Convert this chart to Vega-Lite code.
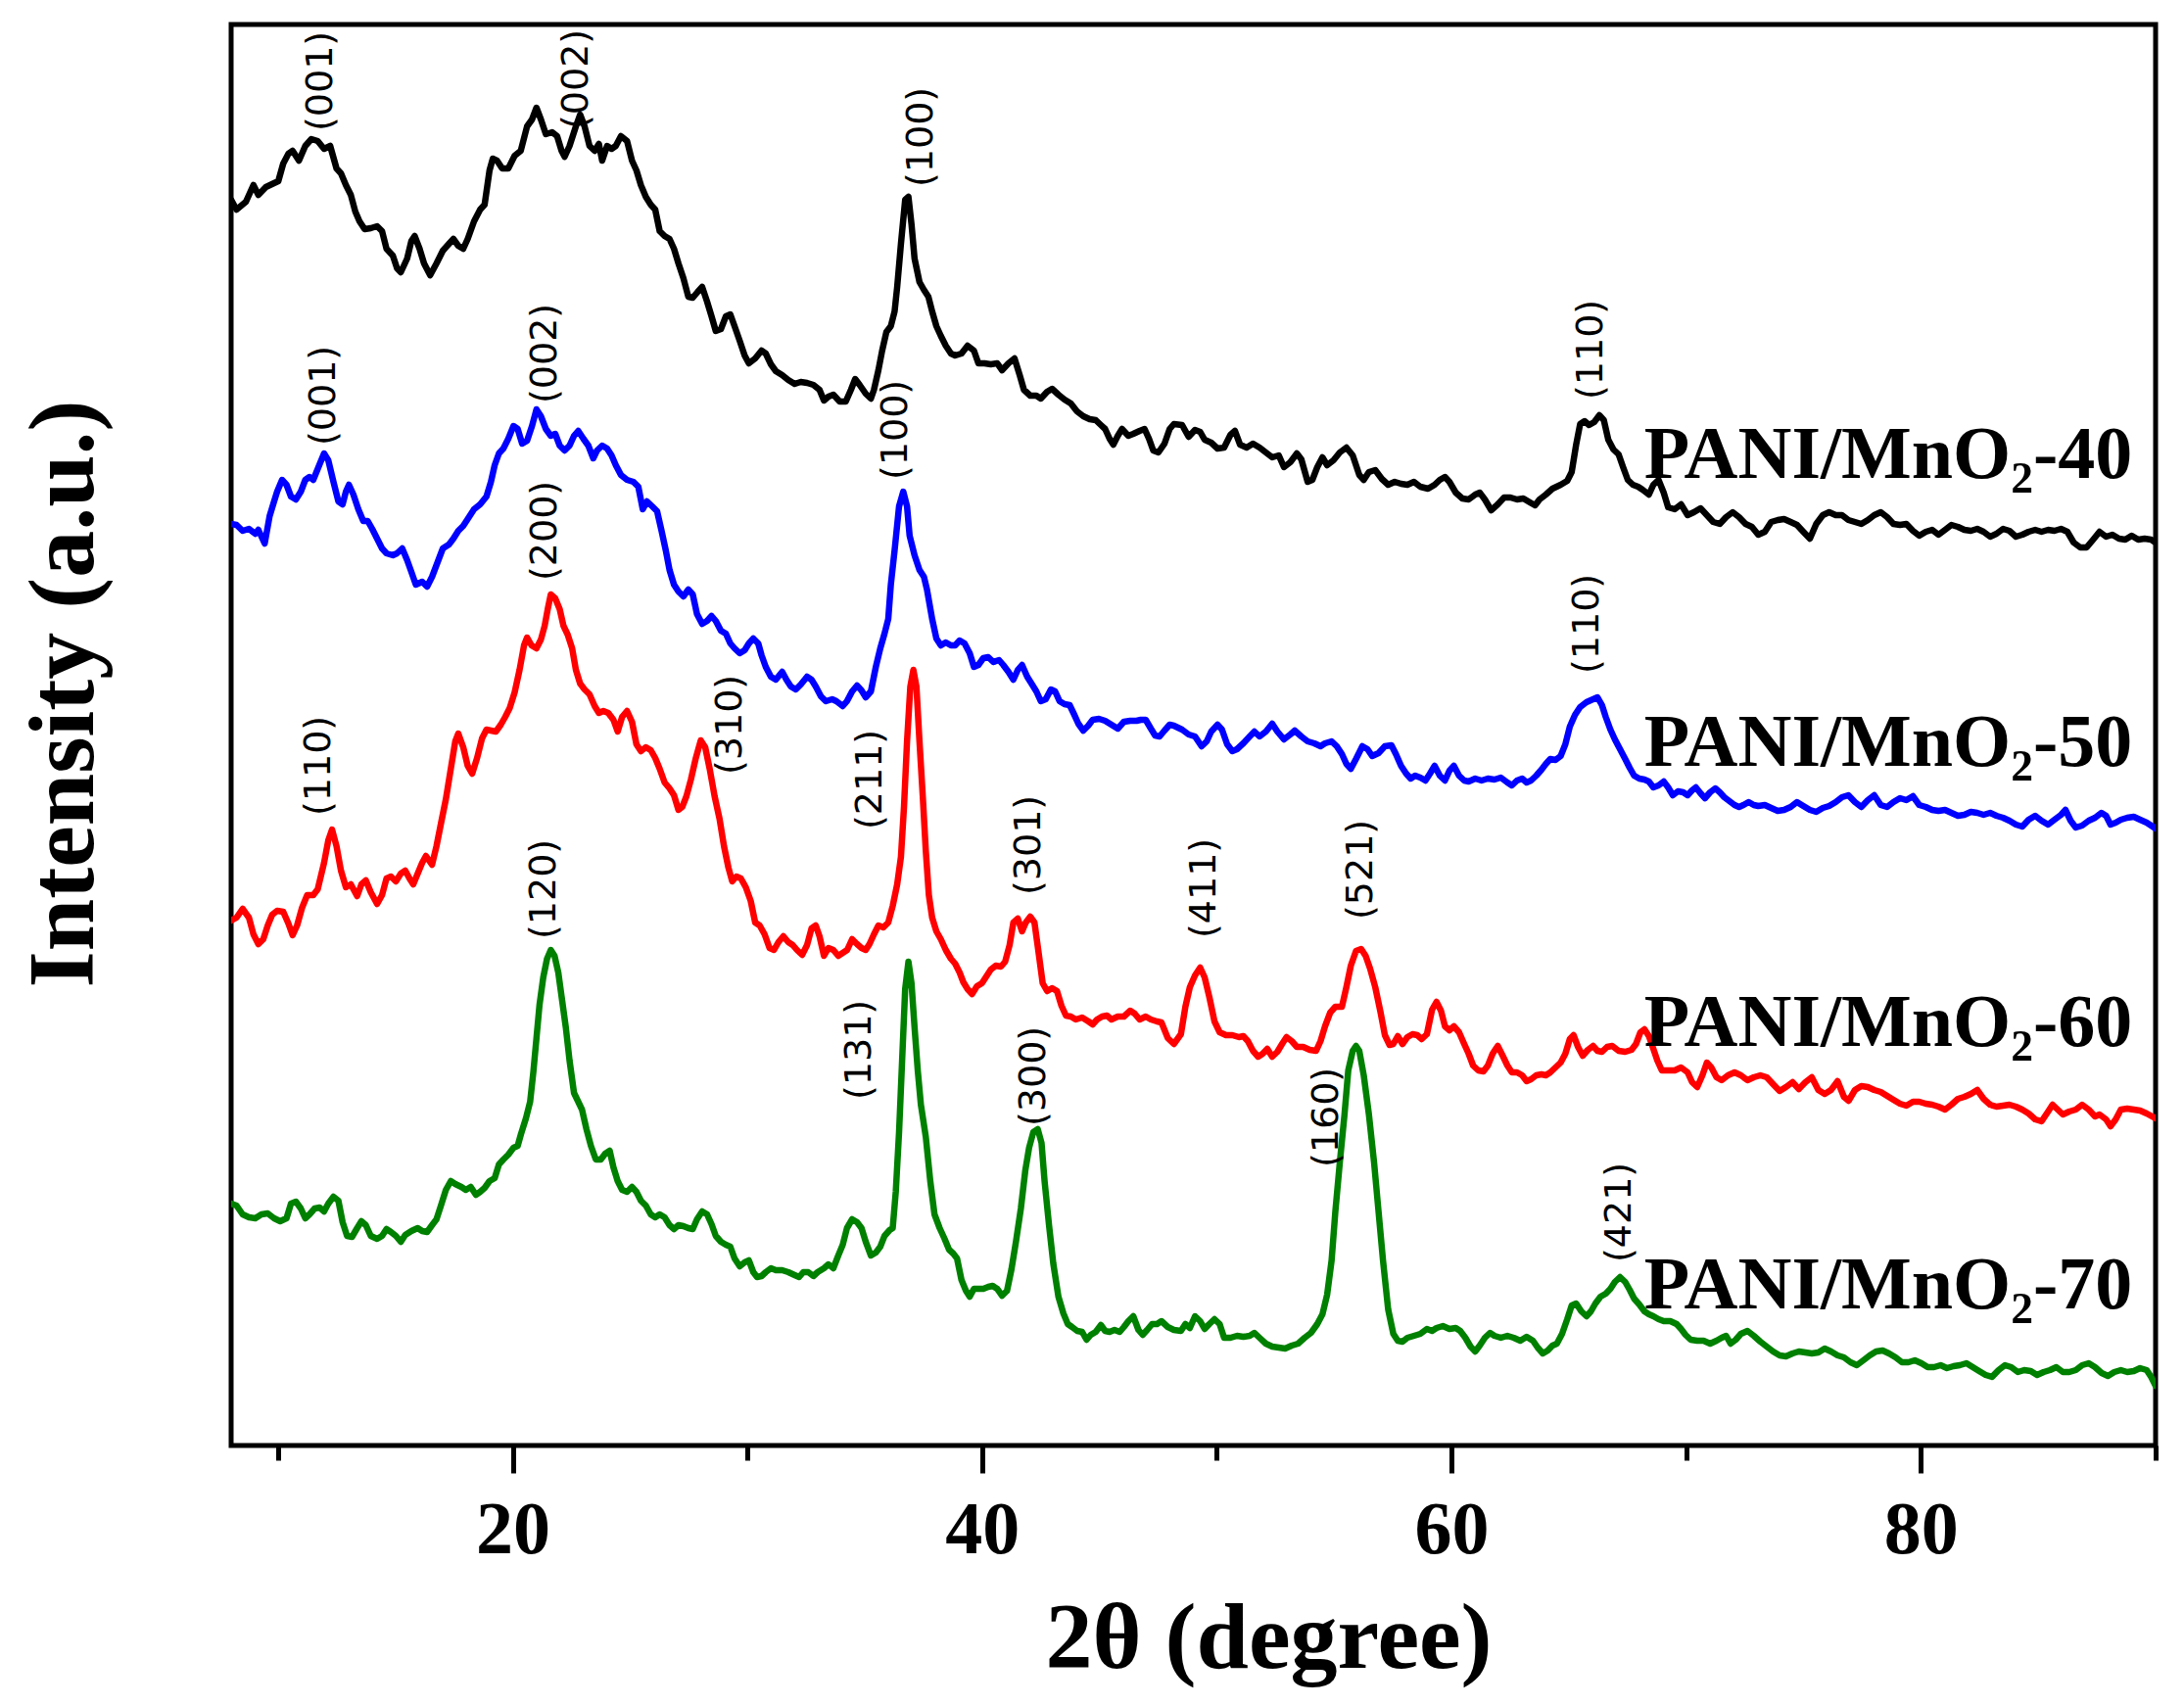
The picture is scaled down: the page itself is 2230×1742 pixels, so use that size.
{
"$schema": "https://vega.github.io/schema/vega-lite/v6.json",
"width": 1965, "height": 1451,
"autosize": {"type": "none"},
"padding": {"left": 236, "top": 25, "right": 29, "bottom": 266},
"background": "white",
"config": {"view": {"stroke": "black", "strokeWidth": 5}, "axis": {"grid": false}},
"datasets": {
"curves": [
{"s":"40","x":8,"y":1272},{"s":"40","x":8.23,"y":1262},{"s":"40","x":8.63,"y":1270},{"s":"40","x":8.95,"y":1287},{"s":"40","x":9.16,"y":1277},{"s":"40","x":9.48,"y":1285},{"s":"40","x":9.83,"y":1289},{"s":"40","x":10.01,"y":1291},{"s":"40","x":10.22,"y":1309},{"s":"40","x":10.44,"y":1319},{"s":"40","x":10.62,"y":1322},{"s":"40","x":10.89,"y":1312},{"s":"40","x":11.16,"y":1327},{"s":"40","x":11.42,"y":1334},{"s":"40","x":11.69,"y":1332},{"s":"40","x":11.96,"y":1324},{"s":"40","x":12.22,"y":1327},{"s":"40","x":12.49,"y":1304},{"s":"40","x":12.68,"y":1299},{"s":"40","x":12.89,"y":1287},{"s":"40","x":13.1,"y":1277},{"s":"40","x":13.29,"y":1260},{"s":"40","x":13.47,"y":1250},{"s":"40","x":13.69,"y":1242},{"s":"40","x":13.95,"y":1243},{"s":"40","x":14.22,"y":1245},{"s":"40","x":14.43,"y":1240},{"s":"40","x":14.62,"y":1222},{"s":"40","x":14.89,"y":1215},{"s":"40","x":15.07,"y":1202},{"s":"40","x":15.23,"y":1198},{"s":"40","x":15.5,"y":1212},{"s":"40","x":15.68,"y":1230},{"s":"40","x":15.82,"y":1235},{"s":"40","x":16.03,"y":1222},{"s":"40","x":16.22,"y":1207},{"s":"40","x":16.48,"y":1195},{"s":"40","x":16.75,"y":1207},{"s":"40","x":17.02,"y":1220},{"s":"40","x":17.28,"y":1227},{"s":"40","x":17.47,"y":1232},{"s":"40","x":17.68,"y":1225},{"s":"40","x":17.89,"y":1222},{"s":"40","x":18.08,"y":1232},{"s":"40","x":18.35,"y":1250},{"s":"40","x":18.61,"y":1262},{"s":"40","x":18.8,"y":1267},{"s":"40","x":19.01,"y":1302},{"s":"40","x":19.15,"y":1314},{"s":"40","x":19.33,"y":1312},{"s":"40","x":19.55,"y":1304},{"s":"40","x":19.81,"y":1304},{"s":"40","x":20.08,"y":1317},{"s":"40","x":20.34,"y":1322},{"s":"40","x":20.61,"y":1347},{"s":"40","x":20.82,"y":1354},{"s":"40","x":21.01,"y":1366},{"s":"40","x":21.2,"y":1354},{"s":"40","x":21.41,"y":1339},{"s":"40","x":21.68,"y":1341},{"s":"40","x":21.89,"y":1337},{"s":"40","x":22.08,"y":1322},{"s":"40","x":22.21,"y":1316},{"s":"40","x":22.42,"y":1327},{"s":"40","x":22.69,"y":1347},{"s":"40","x":22.87,"y":1359},{"s":"40","x":23.06,"y":1347},{"s":"40","x":23.27,"y":1327},{"s":"40","x":23.49,"y":1322},{"s":"40","x":23.67,"y":1329},{"s":"40","x":23.81,"y":1312},{"s":"40","x":24.02,"y":1327},{"s":"40","x":24.21,"y":1324},{"s":"40","x":24.39,"y":1327},{"s":"40","x":24.61,"y":1337},{"s":"40","x":24.87,"y":1332},{"s":"40","x":25.08,"y":1312},{"s":"40","x":25.27,"y":1302},{"s":"40","x":25.46,"y":1287},{"s":"40","x":25.67,"y":1275},{"s":"40","x":25.88,"y":1267},{"s":"40","x":26.07,"y":1262},{"s":"40","x":26.26,"y":1240},{"s":"40","x":26.47,"y":1235},{"s":"40","x":26.68,"y":1232},{"s":"40","x":26.87,"y":1222},{"s":"40","x":27.06,"y":1207},{"s":"40","x":27.27,"y":1192},{"s":"40","x":27.48,"y":1173},{"s":"40","x":27.67,"y":1172},{"s":"40","x":27.88,"y":1178},{"s":"40","x":28.07,"y":1183},{"s":"40","x":28.28,"y":1168},{"s":"40","x":28.47,"y":1153},{"s":"40","x":28.65,"y":1138},{"s":"40","x":28.87,"y":1140},{"s":"40","x":29.08,"y":1153},{"s":"40","x":29.27,"y":1155},{"s":"40","x":29.45,"y":1143},{"s":"40","x":29.67,"y":1128},{"s":"40","x":29.88,"y":1113},{"s":"40","x":30.06,"y":1105},{"s":"40","x":30.33,"y":1110},{"s":"40","x":30.6,"y":1118},{"s":"40","x":30.78,"y":1115},{"s":"40","x":31,"y":1104},{"s":"40","x":31.21,"y":1097},{"s":"40","x":31.48,"y":1093},{"s":"40","x":31.74,"y":1088},{"s":"40","x":32.01,"y":1084},{"s":"40","x":32.27,"y":1086},{"s":"40","x":32.54,"y":1085},{"s":"40","x":32.81,"y":1083},{"s":"40","x":33.07,"y":1078},{"s":"40","x":33.26,"y":1067},{"s":"40","x":33.45,"y":1071},{"s":"40","x":33.66,"y":1073},{"s":"40","x":33.93,"y":1066},{"s":"40","x":34.19,"y":1066},{"s":"40","x":34.41,"y":1078},{"s":"40","x":34.59,"y":1089},{"s":"40","x":34.78,"y":1083},{"s":"40","x":35.04,"y":1074},{"s":"40","x":35.26,"y":1069},{"s":"40","x":35.39,"y":1078},{"s":"40","x":35.58,"y":1098},{"s":"40","x":35.74,"y":1118},{"s":"40","x":35.92,"y":1137},{"s":"40","x":36.11,"y":1143},{"s":"40","x":36.27,"y":1158},{"s":"40","x":36.38,"y":1183},{"s":"40","x":36.54,"y":1227},{"s":"40","x":36.72,"y":1272},{"s":"40","x":36.86,"y":1275},{"s":"40","x":36.99,"y":1247},{"s":"40","x":37.12,"y":1212},{"s":"40","x":37.33,"y":1188},{"s":"40","x":37.52,"y":1180},{"s":"40","x":37.71,"y":1173},{"s":"40","x":37.87,"y":1158},{"s":"40","x":38.05,"y":1143},{"s":"40","x":38.24,"y":1133},{"s":"40","x":38.45,"y":1123},{"s":"40","x":38.67,"y":1115},{"s":"40","x":38.85,"y":1113},{"s":"40","x":39.12,"y":1115},{"s":"40","x":39.38,"y":1123},{"s":"40","x":39.65,"y":1118},{"s":"40","x":39.84,"y":1105},{"s":"40","x":40.1,"y":1105},{"s":"40","x":40.37,"y":1104},{"s":"40","x":40.64,"y":1105},{"s":"40","x":40.85,"y":1098},{"s":"40","x":41.12,"y":1105},{"s":"40","x":41.38,"y":1110},{"s":"40","x":41.6,"y":1093},{"s":"40","x":41.78,"y":1078},{"s":"40","x":42.05,"y":1072},{"s":"40","x":42.31,"y":1072},{"s":"40","x":42.5,"y":1069},{"s":"40","x":42.77,"y":1076},{"s":"40","x":42.98,"y":1079},{"s":"40","x":43.25,"y":1073},{"s":"40","x":43.51,"y":1068},{"s":"40","x":43.78,"y":1064},{"s":"40","x":44.04,"y":1056},{"s":"40","x":44.31,"y":1051},{"s":"40","x":44.58,"y":1048},{"s":"40","x":44.84,"y":1047},{"s":"40","x":45.06,"y":1042},{"s":"40","x":45.24,"y":1038},{"s":"40","x":45.43,"y":1028},{"s":"40","x":45.59,"y":1022},{"s":"40","x":45.78,"y":1031},{"s":"40","x":45.96,"y":1038},{"s":"40","x":46.23,"y":1031},{"s":"40","x":46.44,"y":1033},{"s":"40","x":46.71,"y":1036},{"s":"40","x":46.92,"y":1038},{"s":"40","x":47.11,"y":1028},{"s":"40","x":47.29,"y":1016},{"s":"40","x":47.51,"y":1014},{"s":"40","x":47.77,"y":1023},{"s":"40","x":47.99,"y":1038},{"s":"40","x":48.17,"y":1043},
{"s":"40","x":48.52,"y":1042},{"s":"40","x":48.8,"y":1030},{"s":"40","x":49.07,"y":1037},{"s":"40","x":49.29,"y":1035},{"s":"40","x":49.48,"y":1027},{"s":"40","x":49.76,"y":1024},{"s":"40","x":50.03,"y":1018},{"s":"40","x":50.31,"y":1019},{"s":"40","x":50.58,"y":1032},{"s":"40","x":50.77,"y":1036},{"s":"40","x":50.99,"y":1022},{"s":"40","x":51.27,"y":1019},{"s":"40","x":51.54,"y":1023},{"s":"40","x":51.82,"y":1019},{"s":"40","x":52.09,"y":1014},{"s":"40","x":52.36,"y":1009},{"s":"40","x":52.64,"y":1011},{"s":"40","x":52.86,"y":999},{"s":"40","x":53.13,"y":1004},{"s":"40","x":53.41,"y":1013},{"s":"40","x":53.6,"y":1007},{"s":"40","x":53.87,"y":984},{"s":"40","x":54.07,"y":986},{"s":"40","x":54.28,"y":999},{"s":"40","x":54.5,"y":1009},{"s":"40","x":54.7,"y":1001},{"s":"40","x":54.97,"y":1006},{"s":"40","x":55.24,"y":1014},{"s":"40","x":55.52,"y":1019},{"s":"40","x":55.79,"y":1011},{"s":"40","x":56.07,"y":991},{"s":"40","x":56.26,"y":986},{"s":"40","x":56.48,"y":994},{"s":"40","x":56.75,"y":996},{"s":"40","x":57.03,"y":987},{"s":"40","x":57.3,"y":981},{"s":"40","x":57.58,"y":984},{"s":"40","x":57.85,"y":982},{"s":"40","x":58.12,"y":981},{"s":"40","x":58.4,"y":984},{"s":"40","x":58.67,"y":979},{"s":"40","x":59,"y":977},{"s":"40","x":59.28,"y":981},{"s":"40","x":59.5,"y":986},{"s":"40","x":59.72,"y":989},{"s":"40","x":59.91,"y":984},{"s":"40","x":60.18,"y":973},{"s":"40","x":60.46,"y":967},{"s":"40","x":60.73,"y":966},{"s":"40","x":61.01,"y":971},{"s":"40","x":61.2,"y":973},{"s":"40","x":61.42,"y":966},{"s":"40","x":61.69,"y":955},{"s":"40","x":61.97,"y":961},{"s":"40","x":62.24,"y":968},{"s":"40","x":62.51,"y":968},{"s":"40","x":62.79,"y":966},{"s":"40","x":63.06,"y":967},{"s":"40","x":63.34,"y":963},{"s":"40","x":63.56,"y":960},{"s":"40","x":63.75,"y":966},{"s":"40","x":64.02,"y":971},{"s":"40","x":64.3,"y":977},{"s":"40","x":64.65,"y":981},{"s":"40","x":64.93,"y":985},{"s":"40","x":65.12,"y":994},{"s":"40","x":65.31,"y":1022},{"s":"40","x":65.48,"y":1043},{"s":"40","x":65.67,"y":1046},{"s":"40","x":65.86,"y":1042},{"s":"40","x":66.08,"y":1045},{"s":"40","x":66.3,"y":1052},{"s":"40","x":66.49,"y":1047},{"s":"40","x":66.68,"y":1027},{"s":"40","x":66.9,"y":1017},{"s":"40","x":67.12,"y":1012},{"s":"40","x":67.31,"y":999},{"s":"40","x":67.51,"y":986},{"s":"40","x":67.73,"y":981},{"s":"40","x":67.95,"y":979},{"s":"40","x":68.14,"y":976},{"s":"40","x":68.41,"y":971},{"s":"40","x":68.6,"y":981},{"s":"40","x":68.82,"y":986},{"s":"40","x":69.04,"y":973},{"s":"40","x":69.23,"y":958},{"s":"40","x":69.51,"y":956},{"s":"40","x":69.78,"y":961},{"s":"40","x":70.06,"y":950},{"s":"40","x":70.33,"y":953},{"s":"40","x":70.61,"y":957},{"s":"40","x":70.88,"y":950},{"s":"40","x":71.15,"y":943},{"s":"40","x":71.43,"y":941},{"s":"40","x":71.7,"y":948},{"s":"40","x":71.98,"y":953},{"s":"40","x":72.25,"y":948},{"s":"40","x":72.53,"y":941},{"s":"40","x":72.8,"y":938},{"s":"40","x":73.07,"y":930},{"s":"40","x":73.35,"y":933},{"s":"40","x":73.62,"y":943},{"s":"40","x":73.9,"y":945},{"s":"40","x":74.17,"y":946},{"s":"40","x":74.45,"y":943},{"s":"40","x":74.72,"y":940},{"s":"40","x":74.99,"y":933},{"s":"40","x":75.27,"y":926},{"s":"40","x":75.54,"y":941},{"s":"40","x":75.82,"y":950},{"s":"40","x":76.09,"y":953},{"s":"40","x":76.37,"y":950},{"s":"40","x":76.64,"y":950},{"s":"40","x":76.91,"y":945},{"s":"40","x":77.19,"y":943},{"s":"40","x":77.46,"y":941},{"s":"40","x":77.74,"y":945},{"s":"40","x":78.01,"y":950},{"s":"40","x":78.29,"y":953},{"s":"40","x":78.56,"y":948},{"s":"40","x":78.83,"y":941},{"s":"40","x":79.11,"y":940},{"s":"40","x":79.38,"y":941},{"s":"40","x":79.66,"y":934},{"s":"40","x":79.93,"y":929},{"s":"40","x":80.21,"y":933},{"s":"40","x":80.48,"y":935},{"s":"40","x":80.75,"y":930},{"s":"40","x":81.03,"y":935},{"s":"40","x":81.3,"y":940},{"s":"40","x":81.58,"y":938},{"s":"40","x":81.85,"y":935},{"s":"40","x":82.13,"y":934},{"s":"40","x":82.4,"y":936},{"s":"40","x":82.67,"y":933},{"s":"40","x":82.95,"y":928},{"s":"40","x":83.22,"y":931},{"s":"40","x":83.5,"y":936},{"s":"40","x":83.77,"y":934},{"s":"40","x":84.05,"y":928},{"s":"40","x":84.32,"y":930},{"s":"40","x":84.59,"y":933},{"s":"40","x":84.87,"y":935},{"s":"40","x":85.14,"y":933},{"s":"40","x":85.42,"y":935},{"s":"40","x":85.69,"y":934},{"s":"40","x":85.97,"y":936},{"s":"40","x":86.24,"y":933},{"s":"40","x":86.51,"y":922},{"s":"40","x":86.79,"y":917},{"s":"40","x":87.06,"y":917},{"s":"40","x":87.34,"y":925},{"s":"40","x":87.61,"y":933},{"s":"40","x":87.89,"y":928},{"s":"40","x":88.16,"y":930},{"s":"40","x":88.44,"y":926},{"s":"40","x":88.71,"y":925},{"s":"40","x":88.98,"y":929},{"s":"40","x":89.26,"y":925},{"s":"40","x":89.53,"y":926},{"s":"40","x":89.81,"y":925},{"s":"40","x":90,"y":922},
{"s":"50","x":8,"y":941},{"s":"50","x":8.23,"y":940},{"s":"50","x":8.49,"y":934},{"s":"50","x":8.76,"y":936},{"s":"50","x":9.03,"y":931},{"s":"50","x":9.16,"y":935},{"s":"50","x":9.43,"y":921},{"s":"50","x":9.64,"y":949},{"s":"50","x":9.83,"y":964},{"s":"50","x":9.96,"y":974},{"s":"50","x":10.17,"y":986},{"s":"50","x":10.36,"y":981},{"s":"50","x":10.55,"y":969},{"s":"50","x":10.76,"y":966},{"s":"50","x":10.97,"y":974},{"s":"50","x":11.16,"y":986},{"s":"50","x":11.34,"y":989},{"s":"50","x":11.5,"y":986},{"s":"50","x":11.72,"y":999},{"s":"50","x":11.96,"y":1013},{"s":"50","x":12.14,"y":1006},{"s":"50","x":12.36,"y":984},{"s":"50","x":12.57,"y":964},{"s":"50","x":12.75,"y":961},{"s":"50","x":12.89,"y":974},{"s":"50","x":13.02,"y":981},{"s":"50","x":13.21,"y":971},{"s":"50","x":13.42,"y":956},{"s":"50","x":13.63,"y":944},{"s":"50","x":13.82,"y":944},{"s":"50","x":14.01,"y":936},{"s":"50","x":14.22,"y":926},{"s":"50","x":14.43,"y":916},{"s":"50","x":14.62,"y":911},{"s":"50","x":14.89,"y":909},{"s":"50","x":15.07,"y":911},{"s":"50","x":15.29,"y":916},{"s":"50","x":15.5,"y":904},{"s":"50","x":15.68,"y":892},{"s":"50","x":15.87,"y":879},{"s":"50","x":16.14,"y":882},{"s":"50","x":16.35,"y":877},{"s":"50","x":16.56,"y":887},{"s":"50","x":16.83,"y":904},{"s":"50","x":17.02,"y":916},{"s":"50","x":17.28,"y":920},{"s":"50","x":17.47,"y":926},{"s":"50","x":17.68,"y":934},{"s":"50","x":17.89,"y":939},{"s":"50","x":18.08,"y":946},{"s":"50","x":18.35,"y":956},{"s":"50","x":18.61,"y":961},{"s":"50","x":18.88,"y":969},{"s":"50","x":19.07,"y":984},{"s":"50","x":19.23,"y":1001},{"s":"50","x":19.41,"y":1013},{"s":"50","x":19.6,"y":1018},{"s":"50","x":19.81,"y":1028},{"s":"50","x":20.03,"y":1041},{"s":"50","x":20.21,"y":1038},{"s":"50","x":20.4,"y":1023},{"s":"50","x":20.61,"y":1026},{"s":"50","x":20.82,"y":1041},{"s":"50","x":21.01,"y":1058},{"s":"50","x":21.2,"y":1051},{"s":"50","x":21.41,"y":1038},{"s":"50","x":21.62,"y":1031},{"s":"50","x":21.81,"y":1033},{"s":"50","x":22,"y":1021},{"s":"50","x":22.21,"y":1016},{"s":"50","x":22.42,"y":1021},{"s":"50","x":22.61,"y":1031},{"s":"50","x":22.79,"y":1036},{"s":"50","x":23.01,"y":1028},{"s":"50","x":23.22,"y":1021},{"s":"50","x":23.43,"y":1008},{"s":"50","x":23.59,"y":1016},{"s":"50","x":23.81,"y":1021},{"s":"50","x":24.02,"y":1018},{"s":"50","x":24.21,"y":1011},{"s":"50","x":24.39,"y":1001},{"s":"50","x":24.61,"y":991},{"s":"50","x":24.87,"y":986},{"s":"50","x":25.14,"y":984},{"s":"50","x":25.35,"y":979},{"s":"50","x":25.54,"y":956},{"s":"50","x":25.72,"y":964},{"s":"50","x":25.94,"y":959},{"s":"50","x":26.15,"y":954},{"s":"50","x":26.34,"y":934},{"s":"50","x":26.52,"y":914},{"s":"50","x":26.68,"y":894},{"s":"50","x":26.87,"y":879},{"s":"50","x":27.06,"y":872},{"s":"50","x":27.27,"y":867},{"s":"50","x":27.48,"y":874},{"s":"50","x":27.67,"y":869},{"s":"50","x":27.85,"y":849},{"s":"50","x":28.07,"y":839},{"s":"50","x":28.28,"y":842},{"s":"50","x":28.47,"y":847},{"s":"50","x":28.65,"y":842},{"s":"50","x":28.87,"y":832},{"s":"50","x":29.08,"y":829},{"s":"50","x":29.27,"y":819},{"s":"50","x":29.45,"y":814},{"s":"50","x":29.67,"y":809},{"s":"50","x":29.88,"y":812},{"s":"50","x":30.06,"y":819},{"s":"50","x":30.25,"y":824},{"s":"50","x":30.46,"y":819},{"s":"50","x":30.6,"y":807},{"s":"50","x":30.78,"y":795},{"s":"50","x":31,"y":785},{"s":"50","x":31.21,"y":782},{"s":"50","x":31.48,"y":790},{"s":"50","x":31.66,"y":782},{"s":"50","x":31.85,"y":775},{"s":"50","x":32.06,"y":772},{"s":"50","x":32.27,"y":777},{"s":"50","x":32.54,"y":785},{"s":"50","x":32.73,"y":782},{"s":"50","x":32.91,"y":775},{"s":"50","x":33.13,"y":765},{"s":"50","x":33.34,"y":760},{"s":"50","x":33.61,"y":762},{"s":"50","x":33.79,"y":760},{"s":"50","x":34.06,"y":755},{"s":"50","x":34.24,"y":760},{"s":"50","x":34.46,"y":770},{"s":"50","x":34.67,"y":776},{"s":"50","x":34.86,"y":771},{"s":"50","x":35.04,"y":764},{"s":"50","x":35.26,"y":770},{"s":"50","x":35.47,"y":795},{"s":"50","x":35.66,"y":814},{"s":"50","x":35.84,"y":829},{"s":"50","x":36,"y":844},{"s":"50","x":36.11,"y":879},{"s":"50","x":36.27,"y":914},{"s":"50","x":36.46,"y":959},{"s":"50","x":36.64,"y":974},{"s":"50","x":36.8,"y":959},{"s":"50","x":36.91,"y":929},{"s":"50","x":37.12,"y":909},{"s":"50","x":37.33,"y":894},{"s":"50","x":37.52,"y":887},{"s":"50","x":37.65,"y":874},{"s":"50","x":37.87,"y":844},{"s":"50","x":38.05,"y":824},{"s":"50","x":38.24,"y":817},{"s":"50","x":38.45,"y":820},{"s":"50","x":38.67,"y":817},{"s":"50","x":38.85,"y":817},{"s":"50","x":39.04,"y":822},{"s":"50","x":39.25,"y":819},{"s":"50","x":39.47,"y":809},{"s":"50","x":39.65,"y":795},{"s":"50","x":39.84,"y":797},{"s":"50","x":40.05,"y":804},{"s":"50","x":40.26,"y":805},{"s":"50","x":40.48,"y":800},{"s":"50","x":40.72,"y":802},{"s":"50","x":40.9,"y":797},{"s":"50","x":41.12,"y":790},{"s":"50","x":41.33,"y":782},{"s":"50","x":41.52,"y":792},{"s":"50","x":41.7,"y":797},{"s":"50","x":41.92,"y":785},{"s":"50","x":42.13,"y":777},{"s":"50","x":42.31,"y":770},{"s":"50","x":42.5,"y":760},{"s":"50","x":42.71,"y":762},{"s":"50","x":42.93,"y":772},{"s":"50","x":43.11,"y":770},{"s":"50","x":43.3,"y":760},{"s":"50","x":43.51,"y":757},{"s":"50","x":43.73,"y":756},{"s":"50","x":43.91,"y":747},{"s":"50","x":44.1,"y":737},{"s":"50","x":44.31,"y":730},{"s":"50","x":44.52,"y":735},{"s":"50","x":44.71,"y":741},{"s":"50","x":44.98,"y":742},{"s":"50","x":45.24,"y":740},{"s":"50","x":45.51,"y":736},{"s":"50","x":45.78,"y":732},{"s":"50","x":46.04,"y":739},{"s":"50","x":46.31,"y":740},{"s":"50","x":46.58,"y":740},{"s":"50","x":46.76,"y":741},{"s":"50","x":46.97,"y":741},{"s":"50","x":47.19,"y":732},{"s":"50","x":47.37,"y":725},{"s":"50","x":47.56,"y":724},{"s":"50","x":47.77,"y":730},{"s":"50","x":47.99,"y":736},{"s":"50","x":48.17,"y":735},
{"s":"50","x":48.52,"y":731},{"s":"50","x":48.8,"y":726},{"s":"50","x":49.07,"y":724},{"s":"50","x":49.35,"y":714},{"s":"50","x":49.57,"y":719},{"s":"50","x":49.76,"y":729},{"s":"50","x":50.03,"y":736},{"s":"50","x":50.22,"y":731},{"s":"50","x":50.44,"y":716},{"s":"50","x":50.66,"y":709},{"s":"50","x":50.86,"y":711},{"s":"50","x":51.13,"y":717},{"s":"50","x":51.4,"y":724},{"s":"50","x":51.6,"y":729},{"s":"50","x":51.82,"y":724},{"s":"50","x":52.09,"y":729},{"s":"50","x":52.36,"y":737},{"s":"50","x":52.58,"y":729},{"s":"50","x":52.86,"y":721},{"s":"50","x":53.13,"y":726},{"s":"50","x":53.32,"y":730},{"s":"50","x":53.6,"y":724},{"s":"50","x":53.87,"y":719},{"s":"50","x":54.15,"y":717},{"s":"50","x":54.42,"y":714},{"s":"50","x":54.61,"y":717},{"s":"50","x":54.89,"y":719},{"s":"50","x":55.11,"y":714},{"s":"50","x":55.33,"y":706},{"s":"50","x":55.52,"y":696},{"s":"50","x":55.71,"y":691},{"s":"50","x":55.93,"y":701},{"s":"50","x":56.2,"y":714},{"s":"50","x":56.42,"y":711},{"s":"50","x":56.62,"y":704},{"s":"50","x":56.89,"y":707},{"s":"50","x":57.16,"y":714},{"s":"50","x":57.44,"y":715},{"s":"50","x":57.63,"y":706},{"s":"50","x":57.85,"y":694},{"s":"50","x":58.07,"y":686},{"s":"50","x":58.26,"y":681},{"s":"50","x":58.45,"y":684},{"s":"50","x":58.67,"y":682},{"s":"50","x":58.89,"y":679},{"s":"50","x":59.08,"y":686},{"s":"50","x":59.28,"y":694},{"s":"50","x":59.5,"y":684},{"s":"50","x":59.72,"y":679},{"s":"50","x":59.91,"y":689},{"s":"50","x":60.1,"y":694},{"s":"50","x":60.32,"y":684},{"s":"50","x":60.54,"y":679},{"s":"50","x":60.73,"y":678},{"s":"50","x":61.01,"y":681},{"s":"50","x":61.28,"y":679},{"s":"50","x":61.55,"y":681},{"s":"50","x":61.83,"y":680},{"s":"50","x":62.1,"y":682},{"s":"50","x":62.38,"y":677},{"s":"50","x":62.57,"y":674},{"s":"50","x":62.79,"y":679},{"s":"50","x":63.01,"y":681},{"s":"50","x":63.2,"y":677},{"s":"50","x":63.39,"y":679},{"s":"50","x":63.61,"y":684},{"s":"50","x":63.83,"y":690},{"s":"50","x":64.02,"y":696},{"s":"50","x":64.21,"y":701},{"s":"50","x":64.43,"y":700},{"s":"50","x":64.65,"y":704},{"s":"50","x":64.85,"y":716},{"s":"50","x":65.04,"y":734},{"s":"50","x":65.26,"y":746},{"s":"50","x":65.48,"y":754},{"s":"50","x":65.75,"y":759},{"s":"50","x":66.03,"y":762},{"s":"50","x":66.22,"y":764},{"s":"50","x":66.41,"y":756},{"s":"50","x":66.57,"y":744},{"s":"50","x":66.77,"y":731},{"s":"50","x":66.96,"y":721},{"s":"50","x":67.18,"y":711},{"s":"50","x":67.4,"y":701},{"s":"50","x":67.59,"y":692},{"s":"50","x":67.78,"y":684},{"s":"50","x":68,"y":681},{"s":"50","x":68.22,"y":680},{"s":"50","x":68.41,"y":678},{"s":"50","x":68.6,"y":672},{"s":"50","x":68.82,"y":674},{"s":"50","x":69.04,"y":678},{"s":"50","x":69.23,"y":672},{"s":"50","x":69.43,"y":664},{"s":"50","x":69.65,"y":668},{"s":"50","x":69.87,"y":667},{"s":"50","x":70.06,"y":664},{"s":"50","x":70.25,"y":669},{"s":"50","x":70.41,"y":672},{"s":"50","x":70.61,"y":666},{"s":"50","x":70.8,"y":661},{"s":"50","x":71.02,"y":667},{"s":"50","x":71.24,"y":671},{"s":"50","x":71.43,"y":667},{"s":"50","x":71.62,"y":662},{"s":"50","x":71.84,"y":658},{"s":"50","x":72.06,"y":654},{"s":"50","x":72.25,"y":652},{"s":"50","x":72.44,"y":654},{"s":"50","x":72.66,"y":657},{"s":"50","x":72.88,"y":654},{"s":"50","x":73.07,"y":653},{"s":"50","x":73.35,"y":654},{"s":"50","x":73.62,"y":651},{"s":"50","x":73.9,"y":648},{"s":"50","x":74.17,"y":649},{"s":"50","x":74.45,"y":652},{"s":"50","x":74.72,"y":657},{"s":"50","x":74.99,"y":653},{"s":"50","x":75.27,"y":649},{"s":"50","x":75.54,"y":647},{"s":"50","x":75.82,"y":651},{"s":"50","x":76.09,"y":653},{"s":"50","x":76.37,"y":657},{"s":"50","x":76.64,"y":662},{"s":"50","x":76.91,"y":664},{"s":"50","x":77.19,"y":657},{"s":"50","x":77.46,"y":652},{"s":"50","x":77.74,"y":659},{"s":"50","x":78.01,"y":664},{"s":"50","x":78.29,"y":654},{"s":"50","x":78.56,"y":652},{"s":"50","x":78.83,"y":657},{"s":"50","x":79.11,"y":661},{"s":"50","x":79.38,"y":659},{"s":"50","x":79.66,"y":663},{"s":"50","x":79.93,"y":654},{"s":"50","x":80.21,"y":652},{"s":"50","x":80.48,"y":649},{"s":"50","x":80.75,"y":648},{"s":"50","x":81.03,"y":649},{"s":"50","x":81.3,"y":646},{"s":"50","x":81.58,"y":643},{"s":"50","x":81.85,"y":644},{"s":"50","x":82.13,"y":647},{"s":"50","x":82.4,"y":646},{"s":"50","x":82.67,"y":644},{"s":"50","x":82.95,"y":646},{"s":"50","x":83.22,"y":643},{"s":"50","x":83.5,"y":641},{"s":"50","x":83.77,"y":638},{"s":"50","x":84.05,"y":634},{"s":"50","x":84.32,"y":632},{"s":"50","x":84.59,"y":639},{"s":"50","x":84.87,"y":643},{"s":"50","x":85.14,"y":638},{"s":"50","x":85.42,"y":634},{"s":"50","x":85.69,"y":639},{"s":"50","x":85.97,"y":644},{"s":"50","x":86.16,"y":649},{"s":"50","x":86.38,"y":638},{"s":"50","x":86.6,"y":631},{"s":"50","x":86.87,"y":633},{"s":"50","x":87.15,"y":638},{"s":"50","x":87.42,"y":641},{"s":"50","x":87.69,"y":646},{"s":"50","x":87.89,"y":643},{"s":"50","x":88.08,"y":634},{"s":"50","x":88.3,"y":636},{"s":"50","x":88.52,"y":639},{"s":"50","x":88.79,"y":641},{"s":"50","x":89.07,"y":642},{"s":"50","x":89.34,"y":639},{"s":"50","x":89.62,"y":636},{"s":"50","x":90,"y":630},
{"s":"60","x":8,"y":536},{"s":"60","x":8.23,"y":539},{"s":"60","x":8.49,"y":548},{"s":"60","x":8.76,"y":539},{"s":"60","x":8.95,"y":522},{"s":"60","x":9.16,"y":512},{"s":"60","x":9.37,"y":517},{"s":"60","x":9.56,"y":531},{"s":"60","x":9.75,"y":542},{"s":"60","x":9.96,"y":546},{"s":"60","x":10.22,"y":545},{"s":"60","x":10.44,"y":533},{"s":"60","x":10.62,"y":521},{"s":"60","x":10.81,"y":531},{"s":"60","x":11.02,"y":549},{"s":"60","x":11.24,"y":562},{"s":"60","x":11.5,"y":562},{"s":"60","x":11.69,"y":568},{"s":"60","x":11.96,"y":595},{"s":"60","x":12.14,"y":618},{"s":"60","x":12.3,"y":629},{"s":"60","x":12.49,"y":612},{"s":"60","x":12.68,"y":587},{"s":"60","x":12.89,"y":570},{"s":"60","x":13.1,"y":573},{"s":"60","x":13.37,"y":561},{"s":"60","x":13.55,"y":573},{"s":"60","x":13.74,"y":577},{"s":"60","x":13.95,"y":565},{"s":"60","x":14.22,"y":553},{"s":"60","x":14.43,"y":562},{"s":"60","x":14.62,"y":579},{"s":"60","x":14.81,"y":581},{"s":"60","x":15.02,"y":576},{"s":"60","x":15.23,"y":584},{"s":"60","x":15.42,"y":587},{"s":"60","x":15.6,"y":579},{"s":"60","x":15.76,"y":573},{"s":"60","x":15.95,"y":584},{"s":"60","x":16.14,"y":595},{"s":"60","x":16.3,"y":602},{"s":"60","x":16.56,"y":593},{"s":"60","x":16.75,"y":612},{"s":"60","x":16.94,"y":635},{"s":"60","x":17.15,"y":660},{"s":"60","x":17.36,"y":691},{"s":"60","x":17.55,"y":719},{"s":"60","x":17.68,"y":727},{"s":"60","x":17.89,"y":713},{"s":"60","x":18.08,"y":694},{"s":"60","x":18.27,"y":686},{"s":"60","x":18.48,"y":702},{"s":"60","x":18.69,"y":722},{"s":"60","x":18.88,"y":731},{"s":"60","x":19.07,"y":730},{"s":"60","x":19.28,"y":729},{"s":"60","x":19.49,"y":736},{"s":"60","x":19.68,"y":744},{"s":"60","x":19.87,"y":753},{"s":"60","x":20.08,"y":769},{"s":"60","x":20.29,"y":792},{"s":"60","x":20.48,"y":817},{"s":"60","x":20.61,"y":825},{"s":"60","x":20.8,"y":817},{"s":"60","x":21.01,"y":814},{"s":"60","x":21.2,"y":823},{"s":"60","x":21.36,"y":837},{"s":"60","x":21.49,"y":854},{"s":"60","x":21.62,"y":869},{"s":"60","x":21.81,"y":865},{"s":"60","x":22,"y":854},{"s":"60","x":22.16,"y":837},{"s":"60","x":22.34,"y":828},{"s":"60","x":22.53,"y":814},{"s":"60","x":22.69,"y":792},{"s":"60","x":22.87,"y":778},{"s":"60","x":23.06,"y":772},{"s":"60","x":23.27,"y":767},{"s":"60","x":23.49,"y":755},{"s":"60","x":23.67,"y":748},{"s":"60","x":23.86,"y":750},{"s":"60","x":24.07,"y":748},{"s":"60","x":24.29,"y":741},{"s":"60","x":24.47,"y":729},{"s":"60","x":24.66,"y":744},{"s":"60","x":24.87,"y":750},{"s":"60","x":25.08,"y":739},{"s":"60","x":25.27,"y":716},{"s":"60","x":25.46,"y":709},{"s":"60","x":25.67,"y":713},{"s":"60","x":25.88,"y":710},{"s":"60","x":26.07,"y":702},{"s":"60","x":26.26,"y":691},{"s":"60","x":26.47,"y":677},{"s":"60","x":26.68,"y":671},{"s":"60","x":26.87,"y":664},{"s":"60","x":27.06,"y":649},{"s":"60","x":27.22,"y":652},{"s":"60","x":27.4,"y":663},{"s":"60","x":27.59,"y":680},{"s":"60","x":27.8,"y":702},{"s":"60","x":28.01,"y":720},{"s":"60","x":28.2,"y":713},{"s":"60","x":28.39,"y":691},{"s":"60","x":28.6,"y":663},{"s":"60","x":28.81,"y":640},{"s":"60","x":29,"y":612},{"s":"60","x":29.19,"y":590},{"s":"60","x":29.35,"y":576},{"s":"60","x":29.53,"y":581},{"s":"60","x":29.72,"y":579},{"s":"60","x":29.93,"y":570},{"s":"60","x":30.14,"y":556},{"s":"60","x":30.33,"y":534},{"s":"60","x":30.52,"y":531},{"s":"60","x":30.73,"y":522},{"s":"60","x":30.94,"y":508},{"s":"60","x":31.13,"y":506},{"s":"60","x":31.32,"y":514},{"s":"60","x":31.53,"y":520},{"s":"60","x":31.74,"y":514},{"s":"60","x":31.93,"y":511},{"s":"60","x":32.11,"y":506},{"s":"60","x":32.33,"y":501},{"s":"60","x":32.54,"y":511},{"s":"60","x":32.73,"y":528},{"s":"60","x":32.91,"y":531},{"s":"60","x":33.07,"y":520},{"s":"60","x":33.26,"y":500},{"s":"60","x":33.45,"y":508},{"s":"60","x":33.66,"y":506},{"s":"60","x":33.87,"y":500},{"s":"60","x":34.06,"y":503},{"s":"60","x":34.25,"y":506},{"s":"60","x":34.46,"y":517},{"s":"60","x":34.67,"y":512},{"s":"60","x":34.86,"y":508},{"s":"60","x":35.04,"y":506},{"s":"60","x":35.2,"y":512},{"s":"60","x":35.39,"y":522},{"s":"60","x":35.58,"y":531},{"s":"60","x":35.79,"y":529},{"s":"60","x":36,"y":534},{"s":"60","x":36.19,"y":551},{"s":"60","x":36.38,"y":573},{"s":"60","x":36.54,"y":601},{"s":"60","x":36.67,"y":652},{"s":"60","x":36.8,"y":719},{"s":"60","x":36.94,"y":775},{"s":"60","x":37.07,"y":792},{"s":"60","x":37.2,"y":775},{"s":"60","x":37.33,"y":719},{"s":"60","x":37.47,"y":663},{"s":"60","x":37.6,"y":607},{"s":"60","x":37.73,"y":562},{"s":"60","x":37.87,"y":539},{"s":"60","x":38.05,"y":525},{"s":"60","x":38.24,"y":517},{"s":"60","x":38.45,"y":506},{"s":"60","x":38.67,"y":497},{"s":"60","x":38.85,"y":492},{"s":"60","x":39.04,"y":483},{"s":"60","x":39.2,"y":473},{"s":"60","x":39.38,"y":466},{"s":"60","x":39.57,"y":461},{"s":"60","x":39.78,"y":469},{"s":"60","x":39.99,"y":472},{"s":"60","x":40.18,"y":479},{"s":"60","x":40.37,"y":486},{"s":"60","x":40.58,"y":490},{"s":"60","x":40.8,"y":489},{"s":"60","x":40.98,"y":494},{"s":"60","x":41.17,"y":511},{"s":"60","x":41.33,"y":534},{"s":"60","x":41.52,"y":538},{"s":"60","x":41.7,"y":525},{"s":"60","x":41.86,"y":534},{"s":"60","x":42.05,"y":540},{"s":"60","x":42.23,"y":534},{"s":"60","x":42.39,"y":506},{"s":"60","x":42.58,"y":472},{"s":"60","x":42.77,"y":464},{"s":"60","x":42.98,"y":467},{"s":"60","x":43.19,"y":464},{"s":"60","x":43.38,"y":449},{"s":"60","x":43.57,"y":439},{"s":"60","x":43.78,"y":438},{"s":"60","x":43.99,"y":435},{"s":"60","x":44.26,"y":437},{"s":"60","x":44.53,"y":433},{"s":"60","x":44.71,"y":430},{"s":"60","x":44.9,"y":435},{"s":"60","x":45.11,"y":438},{"s":"60","x":45.32,"y":439},{"s":"60","x":45.51,"y":435},{"s":"60","x":45.78,"y":438},{"s":"60","x":46.04,"y":438},{"s":"60","x":46.31,"y":444},{"s":"60","x":46.5,"y":441},{"s":"60","x":46.71,"y":435},{"s":"60","x":46.97,"y":438},{"s":"60","x":47.19,"y":435},{"s":"60","x":47.45,"y":433},{"s":"60","x":47.64,"y":432},{"s":"60","x":47.91,"y":416},{"s":"60","x":48.17,"y":410},
{"s":"60","x":48.47,"y":420},{"s":"60","x":48.66,"y":448},{"s":"60","x":48.85,"y":468},{"s":"60","x":49.07,"y":480},{"s":"60","x":49.29,"y":488},{"s":"60","x":49.48,"y":478},{"s":"60","x":49.68,"y":458},{"s":"60","x":49.9,"y":433},{"s":"60","x":50.12,"y":422},{"s":"60","x":50.39,"y":419},{"s":"60","x":50.66,"y":419},{"s":"60","x":50.94,"y":417},{"s":"60","x":51.13,"y":418},{"s":"60","x":51.32,"y":413},{"s":"60","x":51.54,"y":403},{"s":"60","x":51.76,"y":397},{"s":"60","x":51.95,"y":400},{"s":"60","x":52.15,"y":405},{"s":"60","x":52.36,"y":397},{"s":"60","x":52.58,"y":402},{"s":"60","x":52.78,"y":410},{"s":"60","x":52.97,"y":417},{"s":"60","x":53.19,"y":413},{"s":"60","x":53.41,"y":407},{"s":"60","x":53.68,"y":407},{"s":"60","x":53.96,"y":404},{"s":"60","x":54.23,"y":403},{"s":"60","x":54.42,"y":413},{"s":"60","x":54.61,"y":428},{"s":"60","x":54.83,"y":442},{"s":"60","x":55.05,"y":448},{"s":"60","x":55.33,"y":448},{"s":"60","x":55.52,"y":468},{"s":"60","x":55.71,"y":490},{"s":"60","x":55.93,"y":505},{"s":"60","x":56.15,"y":507},{"s":"60","x":56.34,"y":500},{"s":"60","x":56.53,"y":487},{"s":"60","x":56.75,"y":468},{"s":"60","x":56.97,"y":443},{"s":"60","x":57.16,"y":419},{"s":"60","x":57.36,"y":409},{"s":"60","x":57.52,"y":410},{"s":"60","x":57.71,"y":418},{"s":"60","x":57.91,"y":410},{"s":"60","x":58.12,"y":417},{"s":"60","x":58.34,"y":420},{"s":"60","x":58.54,"y":419},{"s":"60","x":58.73,"y":415},{"s":"60","x":58.95,"y":420},{"s":"60","x":59.17,"y":445},{"s":"60","x":59.36,"y":453},{"s":"60","x":59.55,"y":444},{"s":"60","x":59.72,"y":428},{"s":"60","x":59.91,"y":424},{"s":"60","x":60.1,"y":428},{"s":"60","x":60.32,"y":422},{"s":"60","x":60.54,"y":410},{"s":"60","x":60.73,"y":400},{"s":"60","x":60.92,"y":388},{"s":"60","x":61.14,"y":383},{"s":"60","x":61.36,"y":382},{"s":"60","x":61.55,"y":388},{"s":"60","x":61.75,"y":400},{"s":"60","x":61.97,"y":408},{"s":"60","x":62.18,"y":398},{"s":"60","x":62.38,"y":388},{"s":"60","x":62.57,"y":381},{"s":"60","x":62.79,"y":381},{"s":"60","x":63.01,"y":378},{"s":"60","x":63.2,"y":372},{"s":"60","x":63.39,"y":374},{"s":"60","x":63.61,"y":378},{"s":"60","x":63.83,"y":379},{"s":"60","x":64.02,"y":378},{"s":"60","x":64.21,"y":381},{"s":"60","x":64.43,"y":386},{"s":"60","x":64.65,"y":391},{"s":"60","x":64.85,"y":400},{"s":"60","x":65.04,"y":415},{"s":"60","x":65.2,"y":419},{"s":"60","x":65.39,"y":407},{"s":"60","x":65.59,"y":398},{"s":"60","x":65.81,"y":404},{"s":"60","x":66.03,"y":408},{"s":"60","x":66.22,"y":403},{"s":"60","x":66.41,"y":402},{"s":"60","x":66.63,"y":407},{"s":"60","x":66.85,"y":408},{"s":"60","x":67.12,"y":403},{"s":"60","x":67.4,"y":402},{"s":"60","x":67.67,"y":404},{"s":"60","x":67.86,"y":410},{"s":"60","x":68.05,"y":422},{"s":"60","x":68.22,"y":425},{"s":"60","x":68.41,"y":418},{"s":"60","x":68.6,"y":405},{"s":"60","x":68.77,"y":393},{"s":"60","x":68.96,"y":383},{"s":"60","x":69.23,"y":383},{"s":"60","x":69.51,"y":383},{"s":"60","x":69.78,"y":386},{"s":"60","x":70.06,"y":381},{"s":"60","x":70.25,"y":371},{"s":"60","x":70.47,"y":366},{"s":"60","x":70.69,"y":378},{"s":"60","x":70.88,"y":391},{"s":"60","x":71.07,"y":386},{"s":"60","x":71.29,"y":376},{"s":"60","x":71.51,"y":373},{"s":"60","x":71.78,"y":378},{"s":"60","x":72.06,"y":381},{"s":"60","x":72.33,"y":378},{"s":"60","x":72.61,"y":373},{"s":"60","x":72.88,"y":376},{"s":"60","x":73.16,"y":378},{"s":"60","x":73.43,"y":376},{"s":"60","x":73.7,"y":369},{"s":"60","x":73.98,"y":362},{"s":"60","x":74.25,"y":366},{"s":"60","x":74.53,"y":371},{"s":"60","x":74.8,"y":364},{"s":"60","x":75.08,"y":371},{"s":"60","x":75.35,"y":376},{"s":"60","x":75.63,"y":363},{"s":"60","x":75.9,"y":359},{"s":"60","x":76.17,"y":363},{"s":"60","x":76.45,"y":372},{"s":"60","x":76.72,"y":356},{"s":"60","x":76.92,"y":352},{"s":"60","x":77.19,"y":363},{"s":"60","x":77.46,"y":367},{"s":"60","x":77.74,"y":366},{"s":"60","x":78.01,"y":363},{"s":"60","x":78.29,"y":361},{"s":"60","x":78.56,"y":357},{"s":"60","x":78.83,"y":353},{"s":"60","x":79.11,"y":349},{"s":"60","x":79.38,"y":347},{"s":"60","x":79.66,"y":351},{"s":"60","x":79.93,"y":351},{"s":"60","x":80.21,"y":349},{"s":"60","x":80.48,"y":348},{"s":"60","x":80.75,"y":346},{"s":"60","x":81.03,"y":343},{"s":"60","x":81.3,"y":348},{"s":"60","x":81.58,"y":354},{"s":"60","x":81.85,"y":356},{"s":"60","x":82.13,"y":359},{"s":"60","x":82.4,"y":363},{"s":"60","x":82.67,"y":354},{"s":"60","x":82.95,"y":348},{"s":"60","x":83.22,"y":346},{"s":"60","x":83.5,"y":347},{"s":"60","x":83.77,"y":348},{"s":"60","x":84.05,"y":346},{"s":"60","x":84.32,"y":343},{"s":"60","x":84.59,"y":339},{"s":"60","x":84.87,"y":333},{"s":"60","x":85.14,"y":331},{"s":"60","x":85.42,"y":341},{"s":"60","x":85.61,"y":348},{"s":"60","x":85.83,"y":343},{"s":"60","x":86.05,"y":338},{"s":"60","x":86.32,"y":341},{"s":"60","x":86.6,"y":343},{"s":"60","x":86.87,"y":348},{"s":"60","x":87.15,"y":343},{"s":"60","x":87.42,"y":336},{"s":"60","x":87.61,"y":338},{"s":"60","x":87.89,"y":333},{"s":"60","x":88.08,"y":326},{"s":"60","x":88.3,"y":333},{"s":"60","x":88.52,"y":343},{"s":"60","x":88.79,"y":344},{"s":"60","x":89.07,"y":343},{"s":"60","x":89.34,"y":342},{"s":"60","x":89.62,"y":339},{"s":"60","x":90,"y":334},
{"s":"70","x":8,"y":247},{"s":"70","x":8.23,"y":245},{"s":"70","x":8.49,"y":236},{"s":"70","x":8.76,"y":233},{"s":"70","x":9.03,"y":232},{"s":"70","x":9.29,"y":236},{"s":"70","x":9.56,"y":237},{"s":"70","x":9.83,"y":232},{"s":"70","x":10.09,"y":229},{"s":"70","x":10.36,"y":232},{"s":"70","x":10.55,"y":247},{"s":"70","x":10.76,"y":249},{"s":"70","x":10.97,"y":242},{"s":"70","x":11.16,"y":232},{"s":"70","x":11.34,"y":236},{"s":"70","x":11.56,"y":242},{"s":"70","x":11.77,"y":243},{"s":"70","x":11.96,"y":239},{"s":"70","x":12.14,"y":247},{"s":"70","x":12.36,"y":254},{"s":"70","x":12.57,"y":250},{"s":"70","x":12.75,"y":228},{"s":"70","x":12.94,"y":214},{"s":"70","x":13.15,"y":213},{"s":"70","x":13.37,"y":222},{"s":"70","x":13.55,"y":229},{"s":"70","x":13.74,"y":225},{"s":"70","x":13.95,"y":214},{"s":"70","x":14.22,"y":211},{"s":"70","x":14.43,"y":214},{"s":"70","x":14.62,"y":221},{"s":"70","x":14.81,"y":218},{"s":"70","x":15.02,"y":214},{"s":"70","x":15.23,"y":208},{"s":"70","x":15.42,"y":215},{"s":"70","x":15.68,"y":219},{"s":"70","x":15.95,"y":222},{"s":"70","x":16.14,"y":219},{"s":"70","x":16.35,"y":218},{"s":"70","x":16.56,"y":225},{"s":"70","x":16.75,"y":231},{"s":"70","x":16.94,"y":245},{"s":"70","x":17.15,"y":261},{"s":"70","x":17.36,"y":270},{"s":"70","x":17.55,"y":267},{"s":"70","x":17.81,"y":264},{"s":"70","x":18,"y":261},{"s":"70","x":18.21,"y":264},{"s":"70","x":18.43,"y":256},{"s":"70","x":18.61,"y":259},{"s":"70","x":18.8,"y":263},{"s":"70","x":19.01,"y":270},{"s":"70","x":19.23,"y":273},{"s":"70","x":19.41,"y":287},{"s":"70","x":19.6,"y":292},{"s":"70","x":19.81,"y":297},{"s":"70","x":20.03,"y":304},{"s":"70","x":20.21,"y":306},{"s":"70","x":20.35,"y":318},{"s":"70","x":20.56,"y":334},{"s":"70","x":20.74,"y":351},{"s":"70","x":20.88,"y":382},{"s":"70","x":21.01,"y":416},{"s":"70","x":21.14,"y":450},{"s":"70","x":21.3,"y":478},{"s":"70","x":21.46,"y":497},{"s":"70","x":21.62,"y":506},{"s":"70","x":21.78,"y":500},{"s":"70","x":21.94,"y":483},{"s":"70","x":22.1,"y":455},{"s":"70","x":22.26,"y":427},{"s":"70","x":22.42,"y":393},{"s":"70","x":22.61,"y":360},{"s":"70","x":22.79,"y":351},{"s":"70","x":22.95,"y":343},{"s":"70","x":23.14,"y":323},{"s":"70","x":23.33,"y":306},{"s":"70","x":23.54,"y":292},{"s":"70","x":23.75,"y":292},{"s":"70","x":23.94,"y":298},{"s":"70","x":24.13,"y":301},{"s":"70","x":24.29,"y":284},{"s":"70","x":24.47,"y":270},{"s":"70","x":24.66,"y":261},{"s":"70","x":24.87,"y":259},{"s":"70","x":25.08,"y":264},{"s":"70","x":25.27,"y":259},{"s":"70","x":25.46,"y":250},{"s":"70","x":25.67,"y":245},{"s":"70","x":25.88,"y":236},{"s":"70","x":26.07,"y":233},{"s":"70","x":26.26,"y":236},{"s":"70","x":26.47,"y":233},{"s":"70","x":26.68,"y":225},{"s":"70","x":26.87,"y":221},{"s":"70","x":27.06,"y":225},{"s":"70","x":27.27,"y":224},{"s":"70","x":27.48,"y":222},{"s":"70","x":27.67,"y":221},{"s":"70","x":27.85,"y":231},{"s":"70","x":28.07,"y":239},{"s":"70","x":28.28,"y":236},{"s":"70","x":28.47,"y":226},{"s":"70","x":28.65,"y":214},{"s":"70","x":28.87,"y":208},{"s":"70","x":29.08,"y":205},{"s":"70","x":29.27,"y":203},{"s":"70","x":29.45,"y":191},{"s":"70","x":29.67,"y":183},{"s":"70","x":29.88,"y":187},{"s":"70","x":30.06,"y":189},{"s":"70","x":30.25,"y":177},{"s":"70","x":30.41,"y":172},{"s":"70","x":30.6,"y":173},{"s":"70","x":30.78,"y":177},{"s":"70","x":31,"y":181},{"s":"70","x":31.21,"y":179},{"s":"70","x":31.48,"y":179},{"s":"70","x":31.74,"y":177},{"s":"70","x":32.01,"y":174},{"s":"70","x":32.2,"y":172},{"s":"70","x":32.38,"y":177},{"s":"70","x":32.59,"y":177},{"s":"70","x":32.81,"y":173},{"s":"70","x":32.99,"y":177},{"s":"70","x":33.26,"y":181},{"s":"70","x":33.45,"y":185},{"s":"70","x":33.66,"y":181},{"s":"70","x":33.87,"y":194},{"s":"70","x":34.06,"y":205},{"s":"70","x":34.24,"y":222},{"s":"70","x":34.46,"y":231},{"s":"70","x":34.67,"y":228},{"s":"70","x":34.86,"y":222},{"s":"70","x":35.04,"y":208},{"s":"70","x":35.26,"y":194},{"s":"70","x":35.47,"y":197},{"s":"70","x":35.66,"y":203},{"s":"70","x":35.84,"y":214},{"s":"70","x":36.06,"y":220},{"s":"70","x":36.19,"y":222},{"s":"70","x":36.32,"y":259},{"s":"70","x":36.46,"y":320},{"s":"70","x":36.59,"y":393},{"s":"70","x":36.72,"y":466},{"s":"70","x":36.86,"y":494},{"s":"70","x":36.99,"y":472},{"s":"70","x":37.12,"y":427},{"s":"70","x":37.26,"y":382},{"s":"70","x":37.39,"y":348},{"s":"70","x":37.6,"y":315},{"s":"70","x":37.79,"y":270},{"s":"70","x":37.97,"y":236},{"s":"70","x":38.19,"y":222},{"s":"70","x":38.4,"y":211},{"s":"70","x":38.59,"y":200},{"s":"70","x":38.77,"y":196},{"s":"70","x":38.93,"y":191},{"s":"70","x":39.12,"y":169},{"s":"70","x":39.31,"y":158},{"s":"70","x":39.47,"y":152},{"s":"70","x":39.65,"y":160},{"s":"70","x":39.84,"y":160},{"s":"70","x":40.05,"y":160},{"s":"70","x":40.26,"y":162},{"s":"70","x":40.45,"y":163},{"s":"70","x":40.64,"y":160},{"s":"70","x":40.85,"y":153},{"s":"70","x":41.06,"y":158},{"s":"70","x":41.25,"y":180},{"s":"70","x":41.44,"y":208},{"s":"70","x":41.65,"y":242},{"s":"70","x":41.84,"y":281},{"s":"70","x":42,"y":304},{"s":"70","x":42.18,"y":320},{"s":"70","x":42.37,"y":323},{"s":"70","x":42.53,"y":309},{"s":"70","x":42.66,"y":270},{"s":"70","x":42.85,"y":225},{"s":"70","x":43.03,"y":186},{"s":"70","x":43.25,"y":152},{"s":"70","x":43.46,"y":135},{"s":"70","x":43.65,"y":124},{"s":"70","x":43.83,"y":121},{"s":"70","x":44.05,"y":117},{"s":"70","x":44.26,"y":116},{"s":"70","x":44.45,"y":108},{"s":"70","x":44.63,"y":113},{"s":"70","x":44.84,"y":116},{"s":"70","x":45.06,"y":123},{"s":"70","x":45.24,"y":117},{"s":"70","x":45.43,"y":116},{"s":"70","x":45.64,"y":118},{"s":"70","x":45.86,"y":116},{"s":"70","x":46.04,"y":121},{"s":"70","x":46.23,"y":127},{"s":"70","x":46.44,"y":132},{"s":"70","x":46.66,"y":118},{"s":"70","x":46.84,"y":113},{"s":"70","x":47.03,"y":118},{"s":"70","x":47.24,"y":124},{"s":"70","x":47.45,"y":124},{"s":"70","x":47.64,"y":127},{"s":"70","x":47.91,"y":121},{"s":"70","x":48.17,"y":118},
{"s":"70","x":48.47,"y":117},{"s":"70","x":48.66,"y":124},{"s":"70","x":48.85,"y":120},{"s":"70","x":49.07,"y":132},{"s":"70","x":49.29,"y":127},{"s":"70","x":49.48,"y":119},{"s":"70","x":49.68,"y":124},{"s":"70","x":49.9,"y":129},{"s":"70","x":50.12,"y":124},{"s":"70","x":50.31,"y":110},{"s":"70","x":50.58,"y":110},{"s":"70","x":50.86,"y":112},{"s":"70","x":51.13,"y":111},{"s":"70","x":51.4,"y":112},{"s":"70","x":51.6,"y":115},{"s":"70","x":51.82,"y":110},{"s":"70","x":52.09,"y":104},{"s":"70","x":52.36,"y":101},{"s":"70","x":52.64,"y":100},{"s":"70","x":52.91,"y":99},{"s":"70","x":53.19,"y":102},{"s":"70","x":53.46,"y":104},{"s":"70","x":53.74,"y":110},{"s":"70","x":54.01,"y":115},{"s":"70","x":54.28,"y":124},{"s":"70","x":54.5,"y":134},{"s":"70","x":54.7,"y":154},{"s":"70","x":54.89,"y":189},{"s":"70","x":55.05,"y":239},{"s":"70","x":55.24,"y":289},{"s":"70","x":55.44,"y":338},{"s":"70","x":55.6,"y":383},{"s":"70","x":55.79,"y":403},{"s":"70","x":55.93,"y":408},{"s":"70","x":56.07,"y":403},{"s":"70","x":56.26,"y":378},{"s":"70","x":56.48,"y":338},{"s":"70","x":56.7,"y":289},{"s":"70","x":56.89,"y":239},{"s":"70","x":57.08,"y":189},{"s":"70","x":57.3,"y":139},{"s":"70","x":57.52,"y":114},{"s":"70","x":57.71,"y":107},{"s":"70","x":57.91,"y":106},{"s":"70","x":58.12,"y":110},{"s":"70","x":58.4,"y":112},{"s":"70","x":58.67,"y":114},{"s":"70","x":58.95,"y":119},{"s":"70","x":59.17,"y":117},{"s":"70","x":59.36,"y":120},{"s":"70","x":59.63,"y":122},{"s":"70","x":59.91,"y":119},{"s":"70","x":60.18,"y":120},{"s":"70","x":60.37,"y":117},{"s":"70","x":60.59,"y":110},{"s":"70","x":60.81,"y":101},{"s":"70","x":61.01,"y":96},{"s":"70","x":61.2,"y":102},{"s":"70","x":61.42,"y":110},{"s":"70","x":61.64,"y":115},{"s":"70","x":61.83,"y":112},{"s":"70","x":62.1,"y":110},{"s":"70","x":62.38,"y":112},{"s":"70","x":62.65,"y":110},{"s":"70","x":62.93,"y":107},{"s":"70","x":63.2,"y":111},{"s":"70","x":63.47,"y":107},{"s":"70","x":63.67,"y":100},{"s":"70","x":63.89,"y":94},{"s":"70","x":64.1,"y":97},{"s":"70","x":64.3,"y":102},{"s":"70","x":64.49,"y":104},{"s":"70","x":64.71,"y":114},{"s":"70","x":64.93,"y":129},{"s":"70","x":65.12,"y":143},{"s":"70","x":65.31,"y":145},{"s":"70","x":65.53,"y":137},{"s":"70","x":65.75,"y":132},{"s":"70","x":65.94,"y":137},{"s":"70","x":66.13,"y":145},{"s":"70","x":66.35,"y":152},{"s":"70","x":66.57,"y":155},{"s":"70","x":66.77,"y":160},{"s":"70","x":66.96,"y":167},{"s":"70","x":67.18,"y":172},{"s":"70","x":67.4,"y":167},{"s":"70","x":67.59,"y":159},{"s":"70","x":67.78,"y":150},{"s":"70","x":68,"y":144},{"s":"70","x":68.22,"y":137},{"s":"70","x":68.41,"y":134},{"s":"70","x":68.6,"y":132},{"s":"70","x":68.82,"y":129},{"s":"70","x":69.04,"y":127},{"s":"70","x":69.32,"y":127},{"s":"70","x":69.59,"y":124},{"s":"70","x":69.78,"y":119},{"s":"70","x":69.97,"y":113},{"s":"70","x":70.19,"y":108},{"s":"70","x":70.47,"y":107},{"s":"70","x":70.74,"y":107},{"s":"70","x":71.02,"y":104},{"s":"70","x":71.29,"y":107},{"s":"70","x":71.51,"y":110},{"s":"70","x":71.7,"y":112},{"s":"70","x":71.89,"y":104},{"s":"70","x":72.11,"y":108},{"s":"70","x":72.33,"y":114},{"s":"70","x":72.61,"y":117},{"s":"70","x":72.88,"y":112},{"s":"70","x":73.16,"y":106},{"s":"70","x":73.43,"y":101},{"s":"70","x":73.7,"y":96},{"s":"70","x":73.98,"y":92},{"s":"70","x":74.25,"y":91},{"s":"70","x":74.53,"y":94},{"s":"70","x":74.8,"y":96},{"s":"70","x":75.08,"y":95},{"s":"70","x":75.35,"y":94},{"s":"70","x":75.63,"y":95},{"s":"70","x":75.9,"y":99},{"s":"70","x":76.17,"y":96},{"s":"70","x":76.45,"y":92},{"s":"70","x":76.72,"y":90},{"s":"70","x":77,"y":85},{"s":"70","x":77.27,"y":82},{"s":"70","x":77.55,"y":87},{"s":"70","x":77.82,"y":92},{"s":"70","x":78.09,"y":96},{"s":"70","x":78.37,"y":97},{"s":"70","x":78.64,"y":94},{"s":"70","x":78.92,"y":90},{"s":"70","x":79.19,"y":85},{"s":"70","x":79.47,"y":85},{"s":"70","x":79.74,"y":87},{"s":"70","x":80.02,"y":84},{"s":"70","x":80.29,"y":80},{"s":"70","x":80.56,"y":80},{"s":"70","x":80.84,"y":82},{"s":"70","x":81.11,"y":79},{"s":"70","x":81.39,"y":81},{"s":"70","x":81.66,"y":82},{"s":"70","x":81.94,"y":84},{"s":"70","x":82.21,"y":80},{"s":"70","x":82.48,"y":76},{"s":"70","x":82.76,"y":72},{"s":"70","x":83.03,"y":70},{"s":"70","x":83.31,"y":77},{"s":"70","x":83.58,"y":82},{"s":"70","x":83.85,"y":80},{"s":"70","x":84.13,"y":75},{"s":"70","x":84.4,"y":77},{"s":"70","x":84.68,"y":76},{"s":"70","x":84.95,"y":72},{"s":"70","x":85.23,"y":75},{"s":"70","x":85.5,"y":77},{"s":"70","x":85.77,"y":80},{"s":"70","x":86.05,"y":75},{"s":"70","x":86.32,"y":75},{"s":"70","x":86.6,"y":77},{"s":"70","x":86.87,"y":82},{"s":"70","x":87.15,"y":84},{"s":"70","x":87.42,"y":80},{"s":"70","x":87.7,"y":74},{"s":"70","x":87.97,"y":71},{"s":"70","x":88.24,"y":75},{"s":"70","x":88.52,"y":77},{"s":"70","x":88.79,"y":75},{"s":"70","x":89.07,"y":76},{"s":"70","x":89.34,"y":79},{"s":"70","x":89.62,"y":77},{"s":"70","x":89.81,"y":70},{"s":"70","x":90,"y":61}
],
"peaks": [
{"t":"(001)","x":11.82,"y":1342},{"t":"(002)","x":22.74,"y":1344},{"t":"(100)","x":37.4,"y":1285},{"t":"(110)","x":65.95,"y":1068},
{"t":"(001)","x":11.97,"y":1021},{"t":"(002)","x":21.4,"y":1064},{"t":"(100)","x":36.35,"y":986},{"t":"(110)","x":65.79,"y":788},
{"t":"(200)","x":21.4,"y":883},{"t":"(110)","x":11.75,"y":643},{"t":"(310)","x":29.27,"y":685},{"t":"(211)","x":35.27,"y":629},{"t":"(301)","x":41.99,"y":562},{"t":"(411)","x":49.49,"y":518},{"t":"(521)","x":56.14,"y":537},
{"t":"(120)","x":21.36,"y":517},{"t":"(131)","x":34.79,"y":353},{"t":"(300)","x":42.2,"y":326},{"t":"(160)","x":54.68,"y":284},{"t":"(421)","x":67.17,"y":187}
],
"names": [
{"t":"PANI/MnO₂-40","x":68.21,"y":988},
{"t":"PANI/MnO₂-50","x":68.21,"y":694},
{"t":"PANI/MnO₂-60","x":68.21,"y":408},
{"t":"PANI/MnO₂-70","x":68.21,"y":140}
]
},
"layer": [
{
"data": {"name": "curves"},
"mark": {"type": "line", "strokeWidth": 6.5, "strokeJoin": "round", "strokeCap": "round", "clip": true},
"encoding": {
"x": {"field": "x", "type": "quantitative", "scale": {"domain": [8, 90], "nice": false, "zero": false},
"axis": {"orient": "bottom", "values": [20, 40, 60, 80], "tickSize": 28, "tickWidth": 5, "tickColor": "black", "domain": false, "grid": false,
"labelFont": "Liberation Serif", "labelFontWeight": "bold", "labelFontSize": 76, "labelColor": "black", "labelBaseline": "alphabetic", "labelPadding": 81, "labelFlush": false, "labelOverlap": false,
"title": "2θ (degree)", "titleFont": "Liberation Serif", "titleFontSize": 96, "titleFontWeight": "bold", "titleColor": "black", "titleX": 1059, "titleY": 226, "titleBaseline": "alphabetic", "titleAlign": "center"}},
"y": {"field": "y", "type": "quantitative", "scale": {"domain": [0, 1451], "nice": false, "zero": false},
"axis": {"domain": false, "ticks": false, "labels": false, "grid": false,
"title": "Intensity (a.u.)", "titleFont": "Liberation Serif", "titleFontSize": 96, "titleFontWeight": "bold", "titleColor": "black", "titleX": -142, "titleY": 683, "titleAngle": 270, "titleBaseline": "alphabetic", "titleAlign": "center"}},
"color": {"field": "s", "type": "nominal", "scale": {"domain": ["40", "50", "60", "70"], "range": ["#000000", "#0000ff", "#ff0000", "#008000"]}, "legend": null}
}
},
{
"data": {"name": "peaks"},
"mark": {"type": "text", "angle": 270, "align": "left", "baseline": "middle", "font": "DejaVu Sans", "fontSize": 38, "color": "black"},
"encoding": {
"x": {"field": "x", "type": "quantitative", "axis": {"orient": "bottom", "values": [10, 30, 50, 70, 90], "tickSize": 15, "tickWidth": 5, "tickColor": "black", "domain": false, "labels": false, "grid": false, "title": null}},
"y": {"field": "y", "type": "quantitative",
"axis": {"domain": false, "ticks": false, "labels": false, "grid": false,
"title": "Intensity (a.u.)", "titleFont": "Liberation Serif", "titleFontSize": 96, "titleFontWeight": "bold", "titleColor": "black", "titleX": -142, "titleY": 683, "titleAngle": 270, "titleBaseline": "alphabetic", "titleAlign": "center"}},
"text": {"field": "t"}
}
},
{
"data": {"name": "names"},
"mark": {"type": "text", "align": "left", "baseline": "alphabetic", "font": "Liberation Serif", "fontWeight": "bold", "fontSize": 76, "color": "black"},
"encoding": {
"x": {"field": "x", "type": "quantitative", "axis": null},
"y": {"field": "y", "type": "quantitative",
"axis": {"domain": false, "ticks": false, "labels": false, "grid": false,
"title": "Intensity (a.u.)", "titleFont": "Liberation Serif", "titleFontSize": 96, "titleFontWeight": "bold", "titleColor": "black", "titleX": -142, "titleY": 683, "titleAngle": 270, "titleBaseline": "alphabetic", "titleAlign": "center"}},
"text": {"field": "t"}
}
}
],
"resolve": {"axis": {"x": "independent"}}
}
